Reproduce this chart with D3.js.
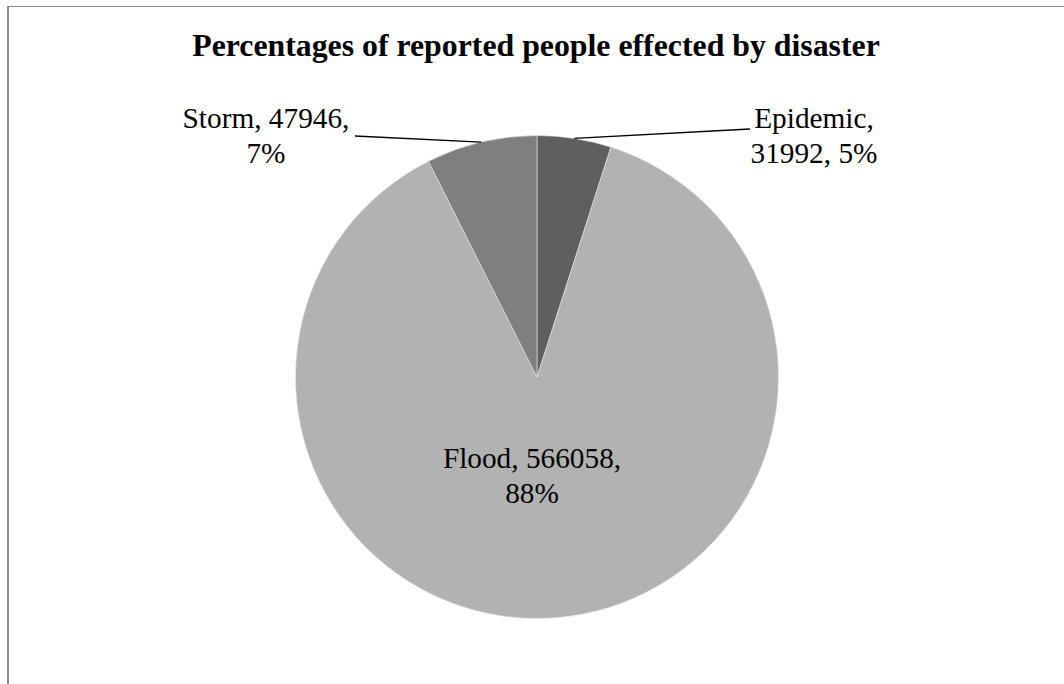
<!DOCTYPE html>
<html>
<head>
<meta charset="utf-8">
<script src="https://cdn.jsdelivr.net/npm/d3@7"></script>
<style>
  html, body { margin: 0; padding: 0; background: #fff; }
  svg { display: block; }
</style>
</head>
<body>
<svg id="chart" width="1064" height="684"></svg>
<script>
// Reported people affected, by disaster type (clockwise from 12 o'clock)
const categories = ["Epidemic", "Flood", "Storm"];
const values = [31992, 566058, 47946];
const percentLabels = ["5%", "88%", "7%"];
const sliceColors = ["#5f5f5f", "#b2b2b2", "#7f7f7f"];
const title = "Percentages of reported people effected by disaster";

const W = 1064, H = 684;
const cx = 537, cy = 377, R = 241.5;
const svg = d3.select("#chart");

// Chart frame (top and left edges)
svg.append("rect").attr("x", 7).attr("y", 6).attr("width", W - 7).attr("height", 1).attr("fill", "#8c8c8c");
svg.append("rect").attr("x", 7).attr("y", 6).attr("width", 2).attr("height", H - 6).attr("fill", "#8c8c8c");

// Title
svg.append("text")
  .attr("x", 536).attr("y", 56)
  .attr("text-anchor", "middle")
  .attr("font-family", "'Liberation Serif', 'Times New Roman', serif")
  .attr("font-weight", "bold")
  .attr("font-size", 31.8)
  .attr("fill", "#000")
  .text(title);

const data = categories.map((c, i) => ({ name: c, value: values[i], pct: percentLabels[i], color: sliceColors[i] }));

const pie = d3.pie().value(d => d.value).sort(null);
const arcs = pie(data);
const arc = d3.arc().innerRadius(0).outerRadius(R);

const g = svg.append("g").attr("transform", `translate(${cx},${cy})`);

g.selectAll("path.slice")
  .data(arcs)
  .join("path")
  .attr("class", "slice")
  .attr("d", arc)
  .attr("fill", d => d.data.color)
  .attr("stroke", "#e6e6e6")
  .attr("stroke-width", 0.6);

// Point on the rim at a slice's middle angle
function rimPoint(a) {
  const m = (a.startAngle + a.endAngle) / 2;
  return [R * Math.sin(m), -R * Math.cos(m)];
}

const font = "'Liberation Serif', 'Times New Roman', serif";
const fs = 29.3;

// Label placement: offsets from pie centre, anchor and leader-line end
const labelLayout = {
  Epidemic: { lines: d => [d.name + ",", d.value + ", " + d.pct], x: 814 - cx, y: 128 - cy, leader: [750 - cx, 129 - cy] },
  Flood:    { lines: d => [d.name + ", " + d.value + ",", d.pct],   x: 532 - cx, y: 468 - cy, leader: null },
  Storm:    { lines: d => [d.name + ", " + d.value + ",", d.pct],   x: 266 - cx, y: 128 - cy, leader: [355 - cx, 136 - cy] }
};

arcs.forEach(a => {
  const lay = labelLayout[a.data.name];
  if (lay.leader) {
    const p = rimPoint(a);
    g.append("line")
      .attr("x1", p[0]).attr("y1", p[1])
      .attr("x2", lay.leader[0]).attr("y2", lay.leader[1])
      .attr("stroke", "#000").attr("stroke-width", 1.3);
  }
  const t = g.append("text")
    .attr("text-anchor", "middle")
    .attr("font-family", font)
    .attr("font-size", fs)
    .attr("fill", "#000");
  lay.lines(a.data).forEach((s, i) => {
    t.append("tspan").attr("x", lay.x).attr("y", lay.y + i * 34.5).text(s);
  });
});
</script>
</body>
</html>
